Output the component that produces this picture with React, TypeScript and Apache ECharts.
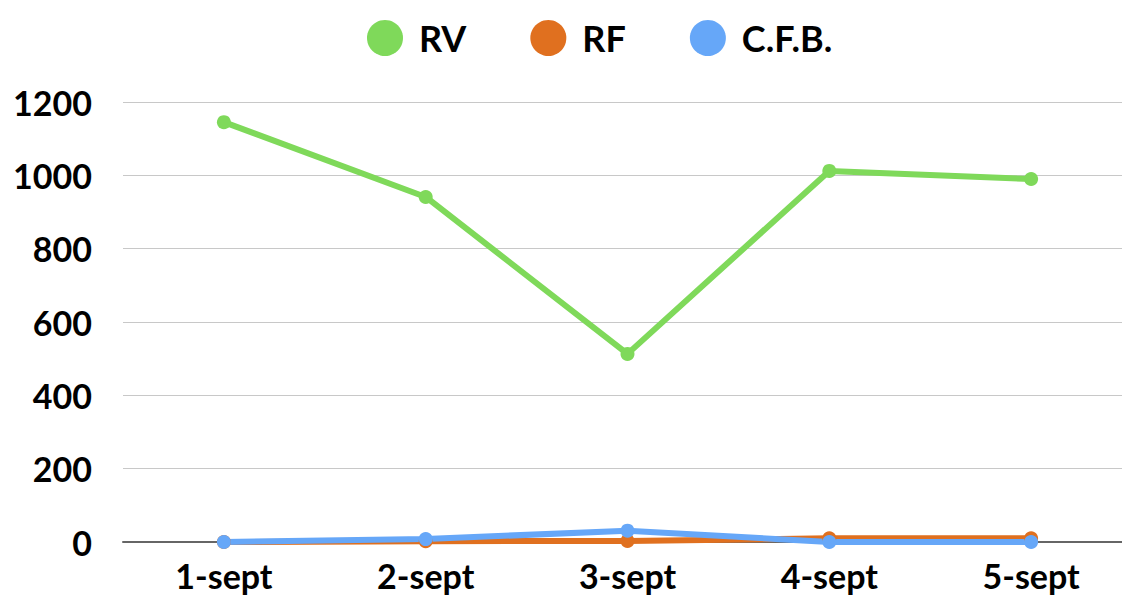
import React, { useEffect, useRef } from "react";
import * as echarts from "echarts";

const categories = ["1-sept", "2-sept", "3-sept", "4-sept", "5-sept"];
const rvValues = [1145, 941, 513, 1012, 990];
const rfValues = [0, 2, 3, 10, 10];
const cfbValues = [0, 8, 31, 0, 0];
const yTicks = { min: 0, max: 1200, interval: 200 };

const FONT = "Lato";

export default function App() {
  const ref = useRef<HTMLDivElement>(null);
  useEffect(() => {
    if (!ref.current) return;
    const chart = echarts.init(ref.current, undefined, { renderer: "svg" });
    const mk = (name: string, data: number[], color: string) => ({
      name,
      type: "line",
      data,
      symbol: "circle",
      symbolSize: 14,
      itemStyle: { color },
      lineStyle: { color, width: 6 },
    });
    chart.setOption({
      animation: false,
      legend: {
        top: 15,
        left: 362,
        icon: "circle",
        itemWidth: 36,
        itemHeight: 36,
        itemGap: 64,
        textStyle: {
          fontFamily: FONT,
          fontWeight: "bold",
          fontSize: 36,
          color: "#000",
          padding: [0, 0, 0, 11],
        },
        data: ["RV", "RF", "C.F.B."],
      },
      grid: { left: 123, width: 1009, top: 102, bottom: 53, outerBoundsMode: "none", containLabel: false },
      xAxis: {
        type: "category",
        data: categories,
        boundaryGap: true,
        axisLine: { lineStyle: { color: "#666", width: 2 } },
        axisTick: { show: false },
        axisLabel: { fontFamily: FONT, fontWeight: "bold", fontSize: 34, color: "#000", margin: 16 },
      },
      yAxis: {
        type: "value",
        min: yTicks.min,
        max: yTicks.max,
        interval: yTicks.interval,
        axisLine: { show: false },
        axisTick: { show: false },
        splitLine: { lineStyle: { color: "#c8c8c8", width: 1 } },
        axisLabel: {
          fontFamily: FONT,
          fontWeight: "bold",
          fontSize: 34,
          color: "#000",
          margin: 31,
          formatter: (v: number) => String(v),
        },
      },
      series: [
        mk("RV", rvValues, "#7fd95a"),
        mk("RF", rfValues, "#e0701f"),
        mk("C.F.B.", cfbValues, "#66a7f8"),
      ],
    });
    return () => chart.dispose();
  }, []);
  return <div ref={ref} style={{ width: 1122, height: 595, position: "absolute", left: 0, top: 0 }} />;
}
